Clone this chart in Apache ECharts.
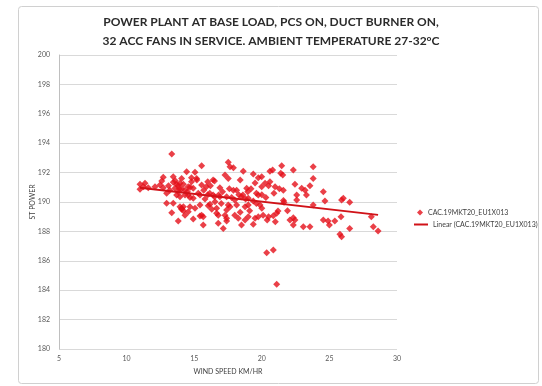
<!DOCTYPE html>
<html>
<head>
<meta charset="utf-8">
<script src="https://cdn.jsdelivr.net/npm/echarts@6/dist/echarts.min.js"></script>
<style>
html,body{margin:0;padding:0;background:#fff;}
#chart{width:542px;height:386px;}
</style>
</head>
<body>
<div id="chart"></div>
<script>
// ---- data ----
const titleLines = ['POWER PLANT AT BASE LOAD, PCS ON, DUCT BURNER ON,', '32 ACC FANS IN SERVICE. AMBIENT TEMPERATURE 27-32°C'];
const xAxisName = 'WIND SPEED KM/HR';
const yAxisName = 'ST POWER';
const seriesName = 'CAC.19MKT20_EU1X013';
const trendName = 'Linear (CAC.19MKT20_EU1X013)';
const xTicks = [5, 10, 15, 20, 25, 30];
const yTicks = [180, 182, 184, 186, 188, 190, 192, 194, 196, 198, 200];

const windSpeed = [
  13.34,14.44,15.06,12.71,13.45,14.07,14.80,12.60,13.45,13.70,13.82,13.95,
  10.99,11.36,11.24,10.99,11.60,12.10,12.47,12.71,13.20,13.58,13.82,14.07,14.32,
  14.56,14.93,14.80,15.18,12.96,13.70,13.95,14.32,14.56,14.69,14.93,
  12.96,13.45,13.95,14.07,14.20,14.69,15.06,13.34,14.56,13.82,14.93,14.32,14.20,14.07,
  17.52,17.65,17.90,18.63,15.55,17.28,17.52,19.37,19.74,15.20,
  16.40,16.50,16.00,15.90,15.55,16.90,17.90,18.14,18.88,18.96,19.00,
  18.50,18.60,19.60,19.74,19.37,19.60,15.30,15.43,16.00,16.15,16.40,16.50,
  16.80,16.90,17.40,17.77,18.00,15.43,16.04,16.17,16.54,16.66,
  17.52,17.65,17.40,18.14,18.76,19.00,19.87,16.66,16.78,15.55,15.67,17.28,17.40,17.40,
  18.00,18.26,18.76,19.00,19.50,19.74,16.78,17.15,18.50,19.37,15.67,15.43,
  19.99,20.60,20.80,21.47,21.40,21.55,22.33,23.80,23.80,
  19.99,20.24,20.50,20.60,20.98,21.59,22.45,22.95,23.20,23.56,23.30,24.55,
  20.00,21.60,21.64,22.58,22.58,23.80,24.67,
  20.00,20.10,20.50,20.40,20.85,21.10,21.20,21.00,22.08,22.33,22.45,22.33,23.07,23.56,
  24.55,24.90,
  25.90,26.03,26.50,25.00,25.40,25.86,25.78,25.90,26.50,28.10,28.25,28.60,
  20.36,20.85,21.10,
  13.10,13.60,14.20,14.50,13.90,14.70,15.70,16.20,15.80,16.30,17.10,17.00,
  17.60,18.30,18.80,19.20,19.50,18.40,19.10,18.40,20.30,20.90,21.30,21.90
];
const stPower = [
  193.27,192.06,192.02,191.68,191.72,191.60,191.65,191.43,191.34,191.20,191.10,191.27,
  191.20,191.27,191.04,190.86,190.97,191.04,191.16,190.97,190.80,190.93,190.70,190.88,190.80,
  191.04,190.93,191.38,191.60,190.59,190.48,190.36,190.48,190.48,190.30,190.25,
  189.91,189.91,189.68,189.57,189.68,189.68,189.57,189.27,189.34,188.70,188.84,189.10,189.40,189.50,
  192.70,192.40,192.33,192.10,192.47,191.84,191.60,191.90,191.65,191.50,
  191.50,191.43,191.38,191.04,191.16,190.97,190.80,190.80,190.93,190.70,190.25,
  190.36,190.48,190.59,190.48,190.07,189.90,190.59,190.48,190.50,190.60,190.48,190.36,
  190.48,190.36,190.36,190.30,190.14,189.80,189.75,189.84,190.02,189.57,
  189.80,189.68,189.46,189.80,189.68,189.80,189.80,189.23,189.10,189.10,189.00,189.10,188.90,188.70,
  189.10,188.90,188.78,189.00,188.90,189.00,188.55,188.20,188.44,188.49,188.44,189.05,
  191.72,192.10,192.18,192.47,191.95,191.84,192.18,192.40,191.60,
  191.04,191.27,191.10,191.38,191.04,190.80,191.20,190.93,190.80,191.10,190.48,190.70,
  190.50,190.10,189.98,190.48,190.14,189.80,190.07,
  189.57,189.10,189.00,188.78,189.07,189.23,189.39,188.66,188.78,188.93,188.78,188.44,188.32,188.32,
  188.78,188.70,
  190.14,190.25,189.98,188.44,188.70,189.00,187.80,187.64,188.20,189.00,188.32,188.03,
  186.55,186.73,184.40,
  191.10,191.45,191.20,190.70,190.90,191.00,190.80,191.10,190.20,189.50,190.70,189.90,
  190.90,190.50,190.20,190.90,191.30,191.50,189.40,189.30,190.30,190.60,190.90,189.40
];

// ---- build series data ----
const points = windSpeed.map((x, i) => [x, stPower[i]]);
// least-squares linear trend over the data (like Excel's linear trendline)
const n = points.length;
let sx = 0, sy = 0, sxx = 0, sxy = 0;
points.forEach(([x, y]) => { sx += x; sy += y; sxx += x * x; sxy += x * y; });
const slope = (n * sxy - sx * sy) / (n * sxx - sx * sx);
const intercept = (sy - slope * sx) / n;
const xMin = Math.min(...windSpeed), xMax = Math.max(...windSpeed);
const trend = [[xMin, intercept + slope * xMin], [xMax, intercept + slope * xMax]];

const FONT = 'Lato, "Liberation Sans", sans-serif';
const chart = echarts.init(document.getElementById('chart'), null, {renderer: 'canvas'});
chart.setOption({
  animation: false,
  backgroundColor: '#ffffff',
  graphic: [{
    type: 'rect', left: 18, top: 6, z: -1,
    shape: {width: 520, height: 377, r: 3},
    style: {fill: '#ffffff', stroke: '#d0d0d0', lineWidth: 1}
  }],
  title: {
    text: titleLines.join('\n'),
    left: 271, top: 13, padding: 0, textAlign: 'center',
    textStyle: {fontFamily: FONT, fontWeight: 'bold', fontSize: 12, lineHeight: 19, color: '#2b2b2b'}
  },
  grid: {left: 59, right: 145, top: 55, bottom: 37},
  legend: [{
    data: [{name: seriesName, icon: 'diamond'}],
    left: 412, top: 204, itemWidth: 6, itemHeight: 6, itemGap: 4,
    textStyle: {fontFamily: FONT, fontSize: 7, color: '#404040'}
  }, {
    data: [{name: trendName, icon: 'rect', itemStyle: {color: '#d01218'}}],
    left: 409, top: 216, itemWidth: 14, itemHeight: 2, itemGap: 2,
    textStyle: {fontFamily: FONT, fontSize: 7, color: '#404040'}
  }],
  xAxis: {
    type: 'value', min: xTicks[0], max: xTicks[xTicks.length - 1], interval: 5,
    name: xAxisName, nameLocation: 'middle', nameGap: 19,
    nameTextStyle: {fontFamily: FONT, fontSize: 7, color: '#404040'},
    axisLine: {show: false}, axisTick: {show: false}, splitLine: {show: false},
    axisLabel: {fontFamily: FONT, fontSize: 7, color: '#595959', margin: 6}
  },
  yAxis: {
    type: 'value', min: yTicks[0], max: yTicks[yTicks.length - 1], interval: 2,
    name: yAxisName, nameLocation: 'middle', nameGap: 23, nameRotate: 90,
    nameMoveOverlap: false,
    nameTextStyle: {fontFamily: FONT, fontSize: 7, color: '#404040'},
    axisLine: {show: true, lineStyle: {color: '#bfbfbf', width: 1}},
    axisTick: {show: false},
    splitLine: {show: true, lineStyle: {color: '#d9d9d9', width: 1}},
    axisLabel: {fontFamily: FONT, fontSize: 7, color: '#595959', margin: 9}
  },
  series: [{
    name: seriesName, type: 'scatter', data: points,
    symbol: 'diamond', symbolSize: 7,
    itemStyle: {color: '#e5101a'}
  }, {
    name: trendName, type: 'line', data: trend,
    symbol: 'none', itemStyle: {color: '#d01218'},
    lineStyle: {color: '#d01218', width: 2}, z: 3
  }]
});
</script>
</body>
</html>
